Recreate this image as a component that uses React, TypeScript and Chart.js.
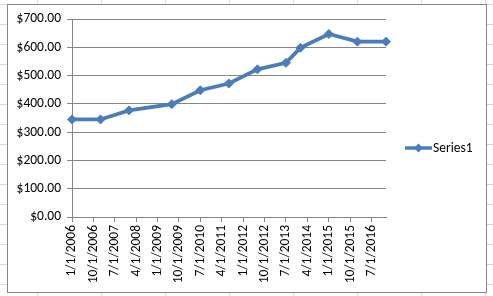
import React, { useEffect, useRef } from 'react';
import { Chart, registerables } from 'chart.js';

Chart.register(...registerables);

// ---- data ----
const seriesName = 'Series1';
const pointDates = ['1/1/2006', '1/1/2007', '1/1/2008', '7/1/2009', '7/1/2010', '7/1/2011', '7/1/2012', '7/1/2013', '1/1/2014', '1/1/2015', '1/1/2016', '1/1/2017'];
const seriesValues = [345, 345, 377, 399, 448, 472, 522, 545, 598, 647, 620, 620];
const xTickLabels = ['1/1/2006', '10/1/2006', '7/1/2007', '4/1/2008', '1/1/2009', '10/1/2009', '7/1/2010', '4/1/2011', '1/1/2012', '10/1/2012', '7/1/2013', '4/1/2014', '1/1/2015', '10/1/2015', '7/1/2016'];
const yTickValues = [0, 100, 200, 300, 400, 500, 600, 700];
const xMinDate = '1/1/2006';
const xMaxDate = '1/1/2017';

function toDay(s: string): number {
  const [m, d, y] = s.split('/').map(Number);
  return Date.UTC(y, m - 1, d) / 86400000;
}

const LINE_COLOR = '#4a7ebb';
const AXIS_COLOR = '#868686';
const FONT_FAMILY = "Carlito, 'Liberation Sans', Arial, sans-serif";
const FONT_SIZE = 13.5;

const backgroundPlugin = {
  id: 'sheetBackground',
  beforeDraw(chart: any) {
    const ctx = chart.ctx;
    const W = chart.width;
    const H = chart.height;
    ctx.save();
    ctx.fillStyle = '#ffffff';
    ctx.fillRect(0, 0, W, H);
    ctx.strokeStyle = '#d9d9d9';
    ctx.lineWidth = 1;
    ctx.beginPath();
    for (let x = 37.5; x < W; x += 64) {
      ctx.moveTo(x, 0);
      ctx.lineTo(x, H);
    }
    for (let y = 4.5; y < H; y += 20) {
      ctx.moveTo(0, y);
      ctx.lineTo(W, y);
    }
    ctx.stroke();
    // chart box
    ctx.fillStyle = '#ffffff';
    ctx.fillRect(7.5, 4.5, 479, 288);
    ctx.strokeStyle = AXIS_COLOR;
    ctx.strokeRect(7.5, 4.5, 479, 288);
    ctx.restore();
  },
};

const legendPlugin = {
  id: 'excelLegend',
  afterDraw(chart: any) {
    const ctx = chart.ctx;
    const y = 148;
    ctx.save();
    ctx.strokeStyle = LINE_COLOR;
    ctx.lineWidth = 3.5;
    ctx.beginPath();
    ctx.moveTo(405, y);
    ctx.lineTo(432, y);
    ctx.stroke();
    ctx.fillStyle = LINE_COLOR;
    ctx.beginPath();
    const cx = 418.5;
    const r = 4.5;
    ctx.moveTo(cx, y - r);
    ctx.lineTo(cx + r, y);
    ctx.lineTo(cx, y + r);
    ctx.lineTo(cx - r, y);
    ctx.closePath();
    ctx.fill();
    ctx.fillStyle = '#000000';
    ctx.font = `${FONT_SIZE}px ${FONT_FAMILY}`;
    ctx.textBaseline = 'middle';
    ctx.textAlign = 'left';
    ctx.fillText(seriesName, 433, y + 0.5);
    ctx.restore();
  },
};

export default function App() {
  const canvasRef = useRef<HTMLCanvasElement | null>(null);

  useEffect(() => {
    document.body.style.margin = '0';
    const canvas = canvasRef.current;
    if (!canvas) return;
    const data = pointDates.map((d, i) => ({ x: toDay(d), y: seriesValues[i] }));
    const chart = new Chart(canvas, {
      type: 'line',
      data: {
        datasets: [
          {
            label: seriesName,
            data,
            borderColor: LINE_COLOR,
            backgroundColor: LINE_COLOR,
            borderWidth: 3.75,
            pointStyle: 'rectRot',
            pointRadius: 4.5,
            pointBorderWidth: 1,
            pointBorderColor: LINE_COLOR,
            pointBackgroundColor: LINE_COLOR,
            tension: 0,
            clip: false as any,
          },
        ],
      },
      options: {
        animation: false,
        responsive: false,
        devicePixelRatio: 1,
        layout: { padding: { left: 0, right: 107, top: 19, bottom: 0 } },
        plugins: {
          legend: { display: false },
          tooltip: { enabled: false },
        },
        scales: {
          x: {
            type: 'linear',
            min: toDay(xMinDate),
            max: toDay(xMaxDate),
            afterBuildTicks: (s: any) => {
              s.ticks = xTickLabels.map((l) => ({ value: toDay(l) }));
            },
            afterFit: (s: any) => {
              s.height = 79;
            },
            grid: {
              drawOnChartArea: false,
              drawTicks: true,
              tickLength: 5,
              color: AXIS_COLOR,
            },
            border: { display: true, color: AXIS_COLOR, width: 1 },
            ticks: {
              autoSkip: false,
              minRotation: 90,
              maxRotation: 90,
              padding: 3,
              color: '#000000',
              font: { family: FONT_FAMILY, size: FONT_SIZE },
              callback: (_v: any, i: number) => xTickLabels[i],
            },
          },
          y: {
            type: 'linear',
            min: yTickValues[0],
            max: yTickValues[yTickValues.length - 1],
            afterBuildTicks: (s: any) => {
              s.ticks = yTickValues.map((v) => ({ value: v }));
            },
            afterFit: (s: any) => {
              s.width = 72;
            },
            grid: {
              color: AXIS_COLOR,
              drawTicks: true,
              tickLength: 5,
            },
            border: { display: true, color: AXIS_COLOR, width: 1 },
            ticks: {
              padding: 6,
              color: '#000000',
              font: { family: FONT_FAMILY, size: FONT_SIZE },
              callback: (v: any) => '$' + Number(v).toFixed(2),
            },
          },
        },
      },
      plugins: [backgroundPlugin, legendPlugin],
    });
    return () => chart.destroy();
  }, []);

  return (
    <div style={{ position: 'absolute', left: 0, top: 0, width: 493, height: 296 }}>
      <canvas ref={canvasRef} width={493} height={296} />
    </div>
  );
}
